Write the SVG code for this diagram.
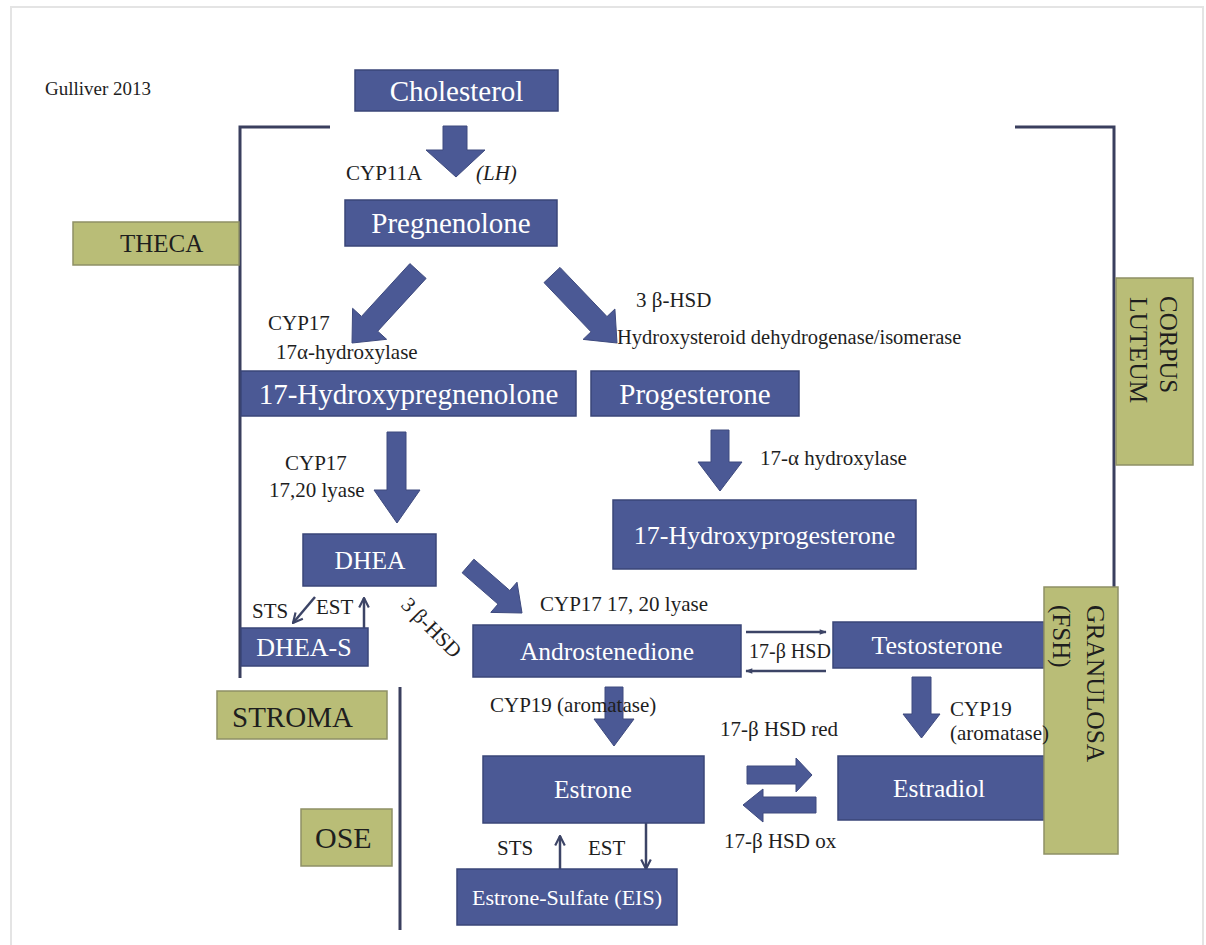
<svg xmlns="http://www.w3.org/2000/svg" width="1206" height="945" viewBox="0 0 1206 945">
<style>
.box{fill:#4B5995;stroke:#3A4678;stroke-width:1.5}
.btx{font-family:"Liberation Serif",serif;fill:#ffffff;text-anchor:middle}
.gbox{fill:#B9BD77;stroke:#8E9066;stroke-width:1.5}
.gtx{font-family:"Liberation Serif",serif;fill:#1e1e1e}
.lbl{font-family:"Liberation Serif",serif;font-size:21px;fill:#1e1e1e}
.frm{stroke:#3A3F5E;stroke-width:3;fill:none}
.blk{fill:#4B5995;stroke:#3E4A7E;stroke-width:1}
.thin{stroke:#3C4466;stroke-width:2.5;fill:none}
</style>
<defs>
<marker id="open" viewBox="0 0 10 10" refX="9" refY="5" markerWidth="12" markerHeight="12" markerUnits="userSpaceOnUse" orient="auto">
<path d="M1,1 L9,5 L1,9" fill="none" stroke="#3C4466" stroke-width="1.8"/>
</marker>
<marker id="solid" viewBox="0 0 10 10" refX="9" refY="5" markerWidth="8" markerHeight="7" markerUnits="userSpaceOnUse" orient="auto">
<path d="M0,1 L10,5 L0,9 Z" fill="#3C4466"/>
</marker>
</defs>
<rect x="0" y="0" width="1206" height="945" fill="#ffffff"/>
<rect x="11" y="7" width="1192" height="950" fill="none" stroke="#e4e4e4" stroke-width="2"/>

<text class="lbl" x="45" y="95" style="font-size:19px">Gulliver 2013</text>

<g id="brackets">
<polyline class="frm" points="330,127 240,127 240,678"/>
<polyline class="frm" points="1015,127 1114,127 1114,588"/>
<line class="frm" x1="400" y1="687" x2="400" y2="930"/>
</g>

<g id="theca"><rect class="gbox" x="73" y="222" width="166" height="43"/><text class="gtx" x="120" y="252" style="font-size:25px">THECA</text></g>
<g id="stroma"><rect class="gbox" x="217" y="691" width="170" height="48"/><text class="gtx" x="232" y="727" style="font-size:29px">STROMA</text></g>
<g id="ose"><rect class="gbox" x="301" y="809" width="91" height="57"/><text class="gtx" x="315" y="848" style="font-size:30px">OSE</text></g>
<g id="corpus-luteum"><rect class="gbox" x="1116" y="278" width="77" height="187"/>
<text class="gtx" transform="translate(1160,296) rotate(90)" style="font-size:25px">CORPUS</text>
<text class="gtx" transform="translate(1130,297) rotate(90)" style="font-size:25.5px">LUTEUM</text></g>

<g id="connectors">
<polygon class="blk" points="443,126 467,126 467,150 485,150 456,177 426,150 443,150"/>
<polygon class="blk" points="409.9,263.6 361.5,316.4 352.6,308.3 352,343 386.6,339.3 377.7,331.2 426.1,278.4"/>
<polygon class="blk" points="560,267.4 607,316.6 614.9,309 617,343 583.1,339.4 591,331.8 544,282.6"/>
<polygon class="blk" points="387,432 406,432 406,490 420,490 397,523 374,490 387,490"/>
<polygon class="blk" points="711,430 729,430 729,462 742,462 720,491 698,462 711,462"/>
<polygon class="blk" points="473.9,559.2 509.8,590.5 517,582.2 522,613 490.8,612.4 498,604.1 462.1,572.8"/>
<polygon class="blk" points="605,687 623,687 623,719 634,719 614,746 594,719 605,719"/>
<polygon class="blk" points="912,677 931,677 931,714 940,714 921.5,738 903,714 912,714"/>
<polygon class="blk" points="747,766 796,766 796,758 812,775 796,792 796,784 747,784"/>
<polygon class="blk" points="816,797 763,797 763,789 743,805 763,822 763,813 816,813"/>
<line class="thin" x1="315" y1="597" x2="293" y2="623" marker-end="url(#open)"/>
<line class="thin" x1="364" y1="628" x2="364" y2="598" marker-end="url(#open)"/>
<line class="thin" x1="560" y1="869" x2="560" y2="836" marker-end="url(#open)"/>
<line class="thin" x1="646" y1="823" x2="646" y2="869" marker-end="url(#open)"/>
<line class="thin" x1="746" y1="632" x2="826" y2="632" marker-end="url(#solid)"/>
<line class="thin" x1="826" y1="671" x2="746" y2="671" marker-end="url(#solid)"/>
</g>

<g id="cholesterol"><rect class="box" x="355" y="70" width="203" height="41"/><text class="btx" x="456.5" y="101" style="font-size:29px">Cholesterol</text></g>
<g id="pregnenolone"><rect class="box" x="345" y="200" width="212" height="46"/><text class="btx" x="451" y="233" style="font-size:29px">Pregnenolone</text></g>
<g id="hydroxypregnenolone"><rect class="box" x="241" y="371" width="335" height="45"/><text class="btx" x="408.5" y="404" style="font-size:29px">17-Hydroxypregnenolone</text></g>
<g id="progesterone"><rect class="box" x="591" y="371" width="208" height="45"/><text class="btx" x="695" y="404" style="font-size:29px">Progesterone</text></g>
<g id="hydroxyprogesterone"><rect class="box" x="613" y="500" width="303" height="69"/><text class="btx" x="764.5" y="544" style="font-size:26px">17-Hydroxyprogesterone</text></g>
<g id="dhea"><rect class="box" x="303" y="534" width="133" height="52"/><text class="btx" x="370" y="569" style="font-size:25.5px">DHEA</text></g>
<g id="dhea-s"><rect class="box" x="241" y="628" width="127" height="38"/><text class="btx" x="304" y="656" style="font-size:26px">DHEA-S</text></g>
<g id="androstenedione"><rect class="box" x="473" y="625" width="268" height="52"/><text class="btx" x="607" y="660" style="font-size:25.5px">Androstenedione</text></g>
<g id="testosterone"><rect class="box" x="833" y="622" width="211" height="46"/><text class="btx" x="937" y="654" style="font-size:26px">Testosterone</text></g>
<g id="estrone"><rect class="box" x="483" y="756" width="221" height="67"/><text class="btx" x="593" y="798" style="font-size:25.5px">Estrone</text></g>
<g id="estradiol"><rect class="box" x="838" y="756" width="206" height="64"/><text class="btx" x="939" y="797" style="font-size:25.5px">Estradiol</text></g>
<g id="estrone-sulfate"><rect class="box" x="457" y="869" width="220" height="56"/><text class="btx" x="567" y="905" style="font-size:22px">Estrone-Sulfate (EIS)</text></g>

<g id="granulosa"><rect class="gbox" x="1044" y="587" width="74" height="267"/>
<text class="gtx" transform="translate(1087,605) rotate(90)" style="font-size:25.5px">GRANULOSA</text>
<text class="gtx" transform="translate(1053,605) rotate(90)" style="font-size:25px">(FSH)</text></g>

<g id="labels">
<text class="lbl" x="346" y="180">CYP11A</text>
<text class="lbl" x="476" y="180" font-style="italic">(LH)</text>
<text class="lbl" x="268" y="330">CYP17</text>
<text class="lbl" x="276" y="359">17α-hydroxylase</text>
<text class="lbl" x="636" y="307">3 β-HSD</text>
<text class="lbl" x="617" y="344" style="font-size:20.5px">Hydroxysteroid dehydrogenase/isomerase</text>
<text class="lbl" x="285" y="470">CYP17</text>
<text class="lbl" x="269" y="497">17,20 lyase</text>
<text class="lbl" x="760" y="465">17-α hydroxylase</text>
<text class="lbl" x="540" y="611">CYP17 17, 20 lyase</text>
<text class="lbl" x="252" y="618">STS</text>
<text class="lbl" x="316" y="614">EST</text>
<text class="lbl" transform="translate(400,606) rotate(45)">3 β-HSD</text>
<text class="lbl" x="749" y="658" style="font-size:20px">17-β HSD</text>
<text class="lbl" x="490" y="712">CYP19 (aromatase)</text>
<text class="lbl" x="950" y="716">CYP19</text>
<text class="lbl" x="950" y="740">(aromatase)</text>
<text class="lbl" x="720" y="736">17-β HSD red</text>
<text class="lbl" x="724" y="848">17-β HSD ox</text>
<text class="lbl" x="497" y="855">STS</text>
<text class="lbl" x="588" y="855">EST</text>
</g>
</svg>
